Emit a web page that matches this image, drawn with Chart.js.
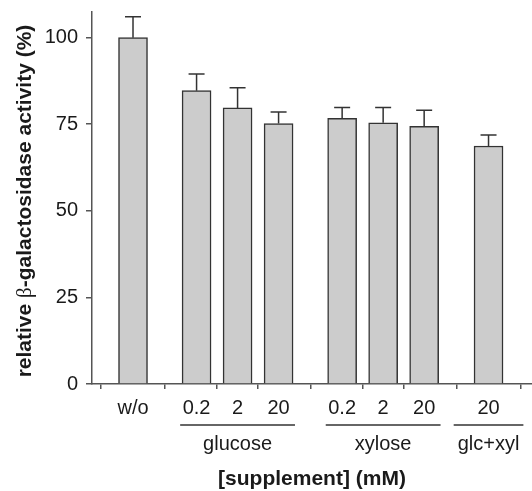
<!DOCTYPE html>
<html><head><meta charset="utf-8">
<script src="https://cdn.jsdelivr.net/npm/chart.js@4.4.0/dist/chart.umd.min.js"></script>
<style>html,body{margin:0;padding:0;background:#fff}#wrap{width:532px;height:491px}</style>
</head><body><div id="wrap"><canvas id="c" width="532" height="491"></canvas></div>
<script>
// ---- data ----
const categories = ['w/o', '0.2', '2', '20', '0.2', '2', '20', '20'];
const groups     = ['', 'glucose', 'glucose', 'glucose', 'xylose', 'xylose', 'xylose', 'glc+xyl'];
const slots      = [0, 1.55, 2.55, 3.55, 5.1, 6.1, 7.1, 8.67];
const values     = [100, 84.7, 79.7, 75.2, 76.7, 75.4, 74.4, 68.7];
const errors     = [6.0, 4.8, 5.8, 3.3, 3.1, 4.4, 4.6, 3.2];
const yTicks     = [0, 25, 50, 75, 100];
const xTitle = '[supplement] (mM)';
const yTitleParts = [['relative ', 'b'], ['\u03B2', 'n'], ['-galactosidase activity (%)', 'b']];

const FAM = '"Liberation Sans", Arial, Helvetica, sans-serif';
const TXT = '#1a1a1a';
const AX = '#555555';

const errorBars = {
  id: 'errorBars',
  afterDatasetsDraw(chart) {
    const {ctx, scales: {x, y}} = chart;
    ctx.save();
    ctx.strokeStyle = '#333';
    ctx.lineWidth = 1.5;
    values.forEach((v, i) => {
      const px = x.getPixelForValue(slots[i]);
      const y0 = y.getPixelForValue(v), y1 = y.getPixelForValue(v + errors[i]);
      ctx.beginPath();
      ctx.moveTo(px, y0); ctx.lineTo(px, y1);
      ctx.moveTo(px - 8, y1); ctx.lineTo(px + 8, y1);
      ctx.stroke();
    });
    ctx.restore();
  }
};

const groupLabels = {
  id: 'groupLabels',
  afterDraw(chart) {
    const {ctx, scales: {x}, chartArea} = chart;
    const names = [...new Set(groups.filter(g => g))];
    ctx.save();
    names.forEach(name => {
      const idx = groups.map((g, i) => g === name ? i : -1).filter(i => i >= 0);
      const a = slots[idx[0]], b = slots[idx[idx.length - 1]];
      const pad = idx.length > 1 ? 0.4 : 0.85;
      const x0 = x.getPixelForValue(a - pad), x1 = x.getPixelForValue(b + pad);
      const ly = chartArea.bottom + 41;
      ctx.strokeStyle = '#666';
      ctx.lineWidth = 2;
      ctx.beginPath(); ctx.moveTo(x0, ly); ctx.lineTo(x1, ly); ctx.stroke();
      ctx.fillStyle = TXT;
      ctx.font = '20px ' + FAM;
      ctx.textAlign = 'center';
      ctx.textBaseline = 'middle';
      ctx.fillText(name, x.getPixelForValue((a + b) / 2), chartArea.bottom + 60);
    });
    ctx.restore();
  }
};

const yTitle = {
  id: 'yTitle',
  afterDraw(chart) {
    const {ctx, chartArea} = chart;
    const fonts = {b: 'bold 21px ' + FAM, n: '21px "Liberation Serif", serif'};
    ctx.save();
    let total = 0;
    const widths = yTitleParts.map(([t, f]) => { ctx.font = fonts[f]; const w = ctx.measureText(t).width; total += w; return w; });
    ctx.translate(25, (chartArea.top + chartArea.bottom) / 2 + 3);
    ctx.rotate(-Math.PI / 2);
    ctx.fillStyle = TXT;
    ctx.textBaseline = 'middle';
    ctx.textAlign = 'left';
    let cx = -total / 2;
    yTitleParts.forEach(([t, f], i) => { ctx.font = fonts[f]; ctx.fillText(t, cx, 0); cx += widths[i]; });
    ctx.restore();
  }
};

new Chart(document.getElementById('c'), {
  type: 'bar',
  data: {
    datasets: [{
      data: slots.map((s, i) => ({x: s, y: values[i]})),
      backgroundColor: '#cccccc',
      borderColor: '#333333',
      borderWidth: 1.5,
      barThickness: 29,
      borderSkipped: 'bottom'
    }]
  },
  options: {
    responsive: false,
    animation: false,
    devicePixelRatio: 1,
    layout: {padding: {top: 12, right: 0, left: 0, bottom: 0}},
    plugins: {legend: {display: false}, tooltip: {enabled: false}},
    scales: {
      x: {
        type: 'linear', min: -1, max: 9.73, offset: false,
        afterBuildTicks: s => { s.ticks = slots.map(v => ({value: v})); },
        ticks: {
          callback: (v, i) => categories[i],
          autoSkip: false, maxRotation: 0, minRotation: 0,
          font: {family: FAM, size: 20}, color: TXT, padding: 7
        },
        grid: {drawOnChartArea: false, drawTicks: true, tickLength: 5, color: AX, lineWidth: 1.5},
        border: {display: true, color: AX, width: 1.5},
        title: {display: true, text: xTitle, color: TXT,
                font: {family: FAM, size: 21, weight: 'bold', lineHeight: 1},
                padding: {top: 0, bottom: 1}},
        afterFit: s => { s.height = 107; s.paddingLeft = 0; s.paddingRight = 0; }
      },
      y: {
        min: 0, max: 107.4,
        afterBuildTicks: s => { s.ticks = yTicks.map(v => ({value: v})); },
        ticks: {font: {family: FAM, size: 20}, color: TXT, padding: 8},
        grid: {drawOnChartArea: false, drawTicks: true, tickLength: 6, color: AX, lineWidth: 1.5},
        border: {display: true, color: AX, width: 1.5},
        title: {display: false},
        afterFit: s => { s.width = 92; s.paddingTop = 0; s.paddingBottom = 0; }
      }
    }
  },
  plugins: [errorBars, groupLabels, yTitle]
});
</script>
</body></html>
